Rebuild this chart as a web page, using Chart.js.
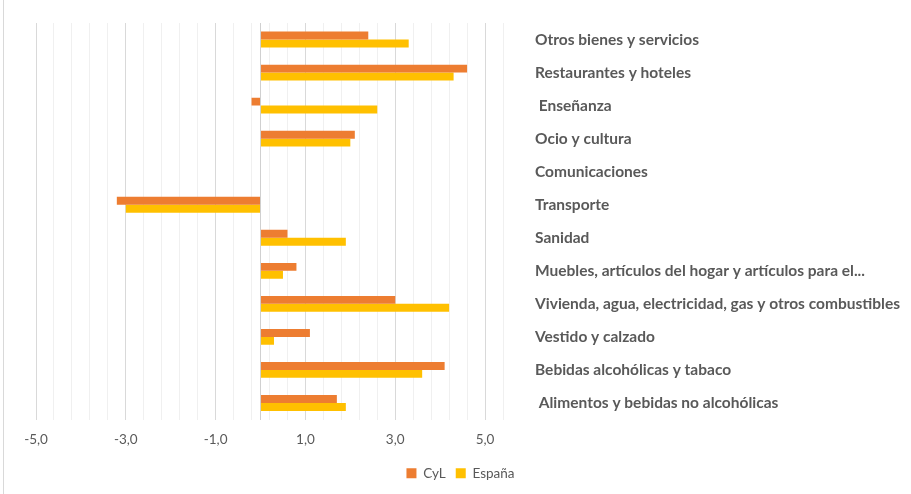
<!DOCTYPE html>
<html>
<head>
<meta charset="utf-8">
<script src="https://cdn.jsdelivr.net/npm/chart.js@4/dist/chart.umd.min.js"></script>
<style>
  html, body { margin: 0; padding: 0; background: #fff; }
  #wrap { position: relative; width: 911px; height: 494px; }
  #frame { position: absolute; left: 3px; top: 0; width: 1px; height: 494px; background: #d9d9d9; }
</style>
</head>
<body>
<div id="wrap">
  <div id="frame"></div>
  <canvas id="gastoChart" width="911" height="494"></canvas>
</div>
<script>
// categorias (de arriba a abajo, como en el grafico)
const categorias = [
    "Otros bienes y servicios",
    "Restaurantes y hoteles",
    " Enseñanza",
    "Ocio y cultura",
    "Comunicaciones",
    "Transporte",
    "Sanidad",
    "Muebles, artículos del hogar y artículos para el...",
    "Vivienda, agua, electricidad, gas y otros combustibles",
    "Vestido y calzado",
    "Bebidas alcohólicas y tabaco",
    " Alimentos y bebidas no alcohólicas"
]
const valoresCyL = [2.4, 4.6, -0.2, 2.1, 0.0, -3.2, 0.6, 0.8, 3.0, 1.1, 4.1, 1.7]
const valoresEspana = [3.3, 4.3, 2.6, 2.0, 0.0, -3.0, 1.9, 0.5, 4.2, 0.3, 3.6, 1.9]
const etiquetasX = [-5, -3, -1, 1, 3, 5]

const ejeMin = -5
const ejeMax = 5.4
const pasoMenor = 0.4

var ctx = document.getElementById("gastoChart").getContext('2d')
var myChart = new Chart(ctx, {
    type: 'bar',
    data: {
        labels: categorias,
        datasets: [{
            label: 'CyL',
            data: valoresCyL,
            backgroundColor: '#ED7D31',
            borderWidth: 0
        }, {
            label: 'España',
            data: valoresEspana,
            backgroundColor: '#FFC000',
            borderWidth: 0
        }]
    },
    options: {
        indexAxis: 'y',
        responsive: false,
        animation: false,
        layout: { padding: { top: 23, left: 10, right: 0, bottom: 4 } },
        datasets: { bar: { categoryPercentage: 0.48, barPercentage: 1.0 } },
        plugins: {
            tooltip: { enabled: false },
            legend: {
                position: 'bottom',
                labels: {
                    boxWidth: 10,
                    boxHeight: 10,
                    padding: 10,
                    color: '#595959',
                    font: { family: 'Lato', size: 13.5 }
                }
            }
        },
        scales: {
            x: {
                min: ejeMin,
                max: ejeMax,
                afterBuildTicks: (scale) => {
                    let t = []
                    for (let i = 0; ejeMin + i * pasoMenor <= ejeMax + 1e-9; i++) {
                        t.push({ value: Math.round((ejeMin + i * pasoMenor) * 10) / 10 })
                    }
                    t.push({ value: 0 })
                    scale.ticks = t
                },
                afterFit: (scale) => {
                    scale.height = 37
                    scale.paddingLeft = 36
                },
                border: { display: false },
                grid: {
                    drawTicks: false,
                    color: (c) => {
                        let v = c.tick ? c.tick.value : null
                        if (v === 0) return '#d0d0d0'
                        if (etiquetasX.includes(v)) return '#d9d9d9'
                        return '#f0f0f0'
                    },
                    lineWidth: 1
                },
                ticks: {
                    autoSkip: false,
                    maxRotation: 0,
                    padding: 12,
                    color: '#595959',
                    font: { family: 'Lato', size: 13.5 },
                    callback: function (value) {
                        if (!etiquetasX.includes(value)) return ''
                        return value.toFixed(1).replace('.', ',')
                    }
                }
            },
            y: {
                position: 'right',
                afterFit: (scale) => {
                    scale.width = 408
                    scale.paddingTop = 0
                    scale.paddingBottom = 0
                },
                border: { display: false },
                grid: { display: false, drawTicks: false },
                ticks: {
                    padding: 32,
                    crossAlign: 'near',
                    color: '#595959',
                    font: { family: 'Lato', size: 15.5, weight: 'bold' }
                }
            }
        }
    }
});
</script>
</body>
</html>
